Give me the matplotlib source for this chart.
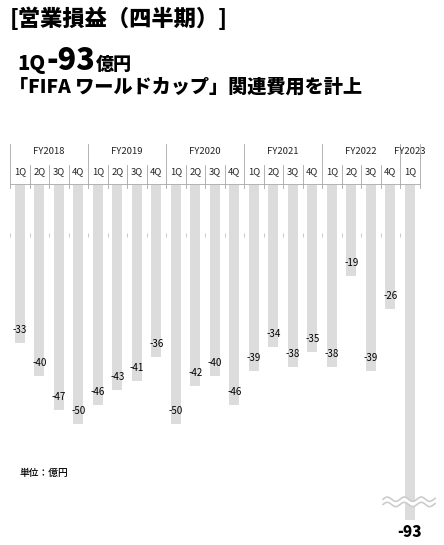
import numpy as np
import matplotlib.pyplot as plt

plt.rcParams['font.family'] = ['Noto Sans CJK JP', 'DejaVu Sans']

# data (億円)
years = ['FY2018', 'FY2019', 'FY2020', 'FY2021', 'FY2022', 'FY2023']
quarters = ['1Q', '2Q', '3Q', '4Q'] * 5 + ['1Q']
values = [-33, -40, -47, -50,
          -46, -43, -41, -36,
          -50, -42, -40, -46,
          -39, -34, -38, -35,
          -38, -19, -39, -26,
          -93]

W, H = 444, 545
fig = plt.figure(figsize=(W / 100, H / 100), dpi=100)
ax = fig.add_axes([10 / W, 25 / H, 409.5 / W, 335 / H])

x = np.arange(len(values))
ax.bar(x, values, width=0.5, color='#dcdcdc', zorder=2)
ax.set_xlim(-0.5, len(values) - 0.5)
ax.set_ylim(-70.1, 0)
ax.axis('off')

# value labels
for i, v in enumerate(values):
    if i == len(values) - 1:
        ax.annotate(str(v), xy=(i, ax.get_ylim()[0]), xytext=(0, -9),
                    textcoords='offset points', ha='center', va='center',
                    fontsize=11, fontweight='heavy', annotation_clip=False)
    else:
        ax.annotate(str(v), xy=(i, v), xytext=(0, 9.4),
                    textcoords='offset points', ha='center', va='center',
                    fontsize=7, zorder=4)

# header table (FY / quarter)
tr = ax.get_xaxis_transform()
line_col = '#a6a6a6'
bounds = np.arange(len(values) + 1) - 0.5
year_starts = [0, 4, 8, 12, 16, 20]
for b in bounds:
    idx = int(b + 0.5)
    top = 1.122 if (idx in year_starts or idx == len(values)) else 1.060
    ax.plot([b, b], [0.991, top], transform=tr, color=line_col, lw=0.6,
            clip_on=False)
ax.plot([bounds[0], bounds[-1]], [1.003, 1.003], transform=tr,
        color=line_col, lw=0.6, clip_on=False)
for i, q in enumerate(quarters):
    ax.text(i, 1.039, q, transform=tr, ha='center', va='center',
            fontsize=6.8, color='#222222')
for k, yname in enumerate(years):
    s = year_starts[k]
    e = year_starts[k + 1] if k + 1 < len(year_starts) else len(values)
    ax.text((s + e - 1) / 2, 1.101, yname, transform=tr, ha='center',
            va='center', fontsize=6.8, color='#222222')

# faint gridline ticks
ax.vlines(bounds, -10.9, -10.1, color='#c0c0c0', lw=0.6, zorder=1)

# break mark on the last bar
brk = ax.get_ylim()[0] + 3.8
wx = np.linspace(len(values) - 2.37, len(values) + 0.3, 300)
wy = 0.45 * np.sin((wx - wx[0]) * 2 * np.pi / 0.87)
ax.fill_between(wx, brk + wy - 0.55, brk + wy + 0.55, color='white',
                clip_on=False, zorder=3, lw=0)
for off in (-0.55, 0.55):
    ax.plot(wx, brk + wy + off, color='#cccccc', lw=1.2, clip_on=False,
            zorder=3)

# titles
fig.text(10 / W, 1 - 19 / H, '[営業損益（四半期）]', fontsize=16,
         fontweight='heavy', va='center')
fig.text(17 / W, 1 - 70 / H, '1Q', fontsize=14.5, fontweight='heavy',
         va='baseline')
fig.text(46 / W, 1 - 70 / H, '-93', fontsize=22, fontweight='heavy',
         va='baseline')
fig.text(96 / W, 1 - 70 / H, '億円', fontsize=13, fontweight='heavy',
         va='baseline')
fig.text(9 / W, 1 - 87 / H, '「FIFA ワールドカップ」関連費用を計上',
         fontsize=13.8, fontweight='heavy', va='center')
fig.text(20 / W, 1 - 473 / H, '単位：億円', fontsize=7, fontweight='medium',
         va='center')

fig.savefig('out.png', dpi=100)
